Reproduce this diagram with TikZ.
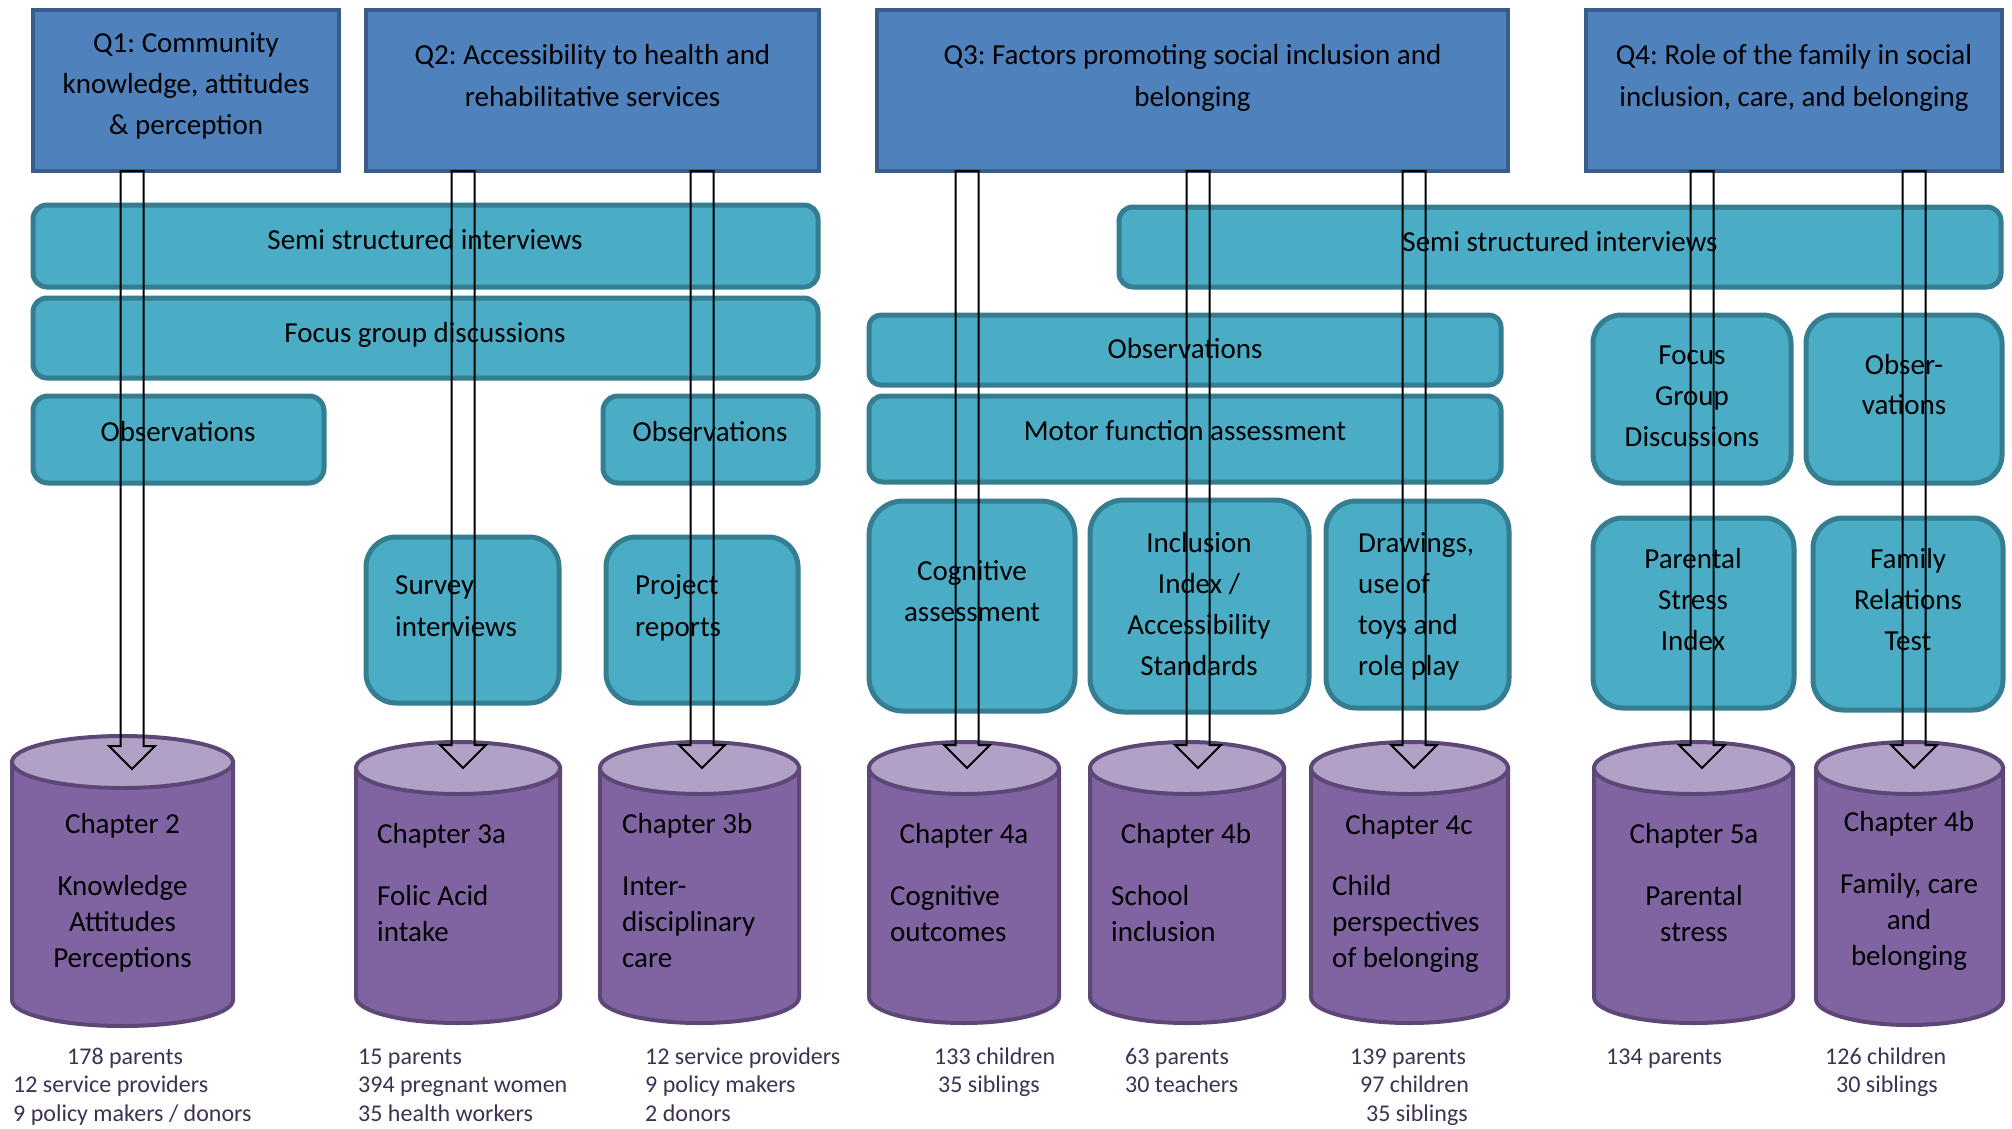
\documentclass[tikz,border=0pt]{standalone}
\usepackage{fontspec}
\setmainfont{Carlito}
\usetikzlibrary{calc}
\frenchspacing
\definecolor{qfill}{HTML}{4F81BD}
\definecolor{qline}{HTML}{385D8A}
\definecolor{tfill}{HTML}{4BACC6}
\definecolor{tline}{HTML}{357D91}
\definecolor{cbody}{HTML}{8064A2}
\definecolor{ctop}{HTML}{B2A1C7}
\definecolor{cline}{HTML}{5C4776}
\definecolor{ltxt}{HTML}{3F3151}
\tikzset{
  qbox/.style={draw=qline, fill=qfill, line width=4.5pt, rectangle, inner sep=0pt, outer sep=0pt},
  tbox/.style={draw=tline, fill=tfill, line width=5pt, rectangle, inner sep=0pt, outer sep=0pt},
  cylbody/.style={draw=cline, fill=cbody, line width=4pt},
  cyltop/.style={draw=cline, fill=ctop, line width=4pt},
  txt/.style={font=\fontsize{29}{35}\selectfont\frenchspacing, inner sep=0pt, text=black},
  ctr/.style={txt, anchor=base},
  lft/.style={txt, anchor=base west},
  sml/.style={font=\fontsize{24}{29}\selectfont, inner sep=0pt, text=ltxt, anchor=base west},
  blk/.style={draw=black, line width=2pt, line join=miter}
}
\newcommand\mybox[7]{\node[#2, rounded corners=#7, anchor=north west, minimum width={(#5)-(#3)}, minimum height={(#6)-(#4)}] (#1) at (#3,#4) {};}
\newcommand\mylines[6]{\foreach \t [count=\i] in {#6} {\node[#5] (#1-\i) at ({#2},{#3+#4*(\i-1)}) {\t};}}
\newcommand\mycyl[6]{%
  \pgfmathsetmacro\cylcx{(#2+#3)/2}%
  \pgfmathsetmacro\cylrx{(#3-#2)/2}%
  \path[cylbody] (#2,#4) -- (#2,#5) .. controls (#2,{#5+0.5523*#6}) and ({\cylcx-0.5523*\cylrx},{#5+#6}) .. (\cylcx,{#5+#6}) .. controls ({\cylcx+0.5523*\cylrx},{#5+#6}) and (#3,{#5+0.5523*#6}) .. (#3,#5) -- (#3,#4) -- cycle;
  \path[cyltop] (\cylcx,#4) ellipse [x radius=\cylrx, y radius=#6];
  \node[inner sep=0pt, minimum width=2*\cylrx, minimum height={#5-#4+2*#6}] (#1) at (\cylcx,{(#4+#5)/2}) {};
}
\newcommand\blockarrow[2]{\draw[blk] ($(#1)+(-11.5,0)$) -- ($(#1)+(11.5,0)$) -- ($(#2)+(11.5,-23)$) -- ($(#2)+(23,-23)$) -- (#2) -- ($(#2)+(-23,-23)$) -- ($(#2)+(-11.5,-23)$) -- cycle;}
\begin{document}
\begin{tikzpicture}[x=1pt,y=-1pt]
\useasboundingbox (0,0) rectangle (2012,1128);
\fill[white] (0,0) rectangle (2012,1128);
% question boxes
\mybox{q1}{qbox}{33}{10}{339}{171}{0pt}
\mybox{q2}{qbox}{366}{10}{819}{171}{0pt}
\mybox{q3}{qbox}{877}{10}{1508}{171}{0pt}
\mybox{q4}{qbox}{1586}{10}{2002}{171}{0pt}
\mylines{q1t}{186}{52}{41}{ctr}{Q1: Community,{knowledge, attitudes},\& perception}
\mylines{q2t}{592.5}{64}{42}{ctr}{Q2: Accessibility to health and,rehabilitative services}
\mylines{q3t}{1192.5}{64}{42}{ctr}{Q3: Factors promoting social inclusion and,belonging}
\mylines{q4t}{1794}{64}{42}{ctr}{Q4: Role of the family in social,{inclusion, care, and belonging}}
% method boxes
\mybox{ssiL}{tbox}{33}{205}{818}{287}{14pt}
\mybox{fgdL}{tbox}{33}{298}{818}{378}{14pt}
\mybox{obsL}{tbox}{33}{396}{324}{483}{15pt}
\mybox{obsM}{tbox}{603}{396}{818}{483}{15pt}
\mybox{ssiR}{tbox}{1119}{207}{2001}{287}{14pt}
\mybox{obsQ}{tbox}{869}{315}{1501}{385}{12pt}
\mybox{motor}{tbox}{869}{396}{1501}{482}{14pt}
\mybox{fgdR}{tbox}{1593}{315}{1791}{483}{28pt}
\mybox{obsR}{tbox}{1806}{315}{2002}{483}{28pt}
\mybox{surv}{tbox}{366}{537}{559}{703}{30pt}
\mybox{proj}{tbox}{606}{537}{798}{703}{30pt}
\mybox{cogn}{tbox}{869}{501}{1075}{711}{34pt}
\mybox{incl}{tbox}{1090}{500}{1309}{712}{34pt}
\mybox{drw}{tbox}{1326}{501}{1509}{708}{30pt}
\mybox{psi}{tbox}{1593}{518}{1794}{708}{30pt}
\mybox{frt}{tbox}{1813}{518}{2003}{710}{30pt}
\node[ctr] (ssiLt) at (425,249) {Semi structured interviews};
\node[ctr] (fgdLt) at (425,342) {Focus group discussions};
\node[ctr] (obsLt) at (178,441) {Observations};
\node[ctr] (obsMt) at (710,441) {Observations};
\node[ctr] (ssiRt) at (1560,251) {Semi structured interviews};
\node[ctr] (obsQt) at (1185,358) {Observations};
\node[ctr] (motort) at (1185,440) {Motor function assessment};
\mylines{fgdRt}{1692}{364}{41}{ctr}{Focus,Group,Discussions}
\mylines{obsRt}{1904}{374}{40}{ctr}{Obser-,vations}
\mylines{survt}{395}{594}{42}{lft}{Survey,interviews}
\mylines{projt}{635}{594}{42}{lft}{Project,reports}
\mylines{cognt}{972}{580}{41}{ctr}{Cognitive,assessment}
\mylines{inclt}{1199}{552}{41}{ctr}{Inclusion,Index /,Accessibility,Standards}
\mylines{drwt}{1358}{552}{41}{lft}{{Drawings,},use of,toys and,role play}
\mylines{psit}{1693}{568}{41}{ctr}{Parental,Stress,Index}
\mylines{frtt}{1908}{568}{41}{ctr}{Family,Relations,Test}
% chapter cylinders
\mycyl{ch2}{12}{233}{762}{1000}{26}
\mycyl{ch3a}{356}{560}{768}{997}{26}
\mycyl{ch3b}{600}{799}{768}{997}{26}
\mycyl{ch4a}{869}{1059}{768}{997}{26}
\mycyl{ch4b}{1090}{1284}{768}{997}{26}
\mycyl{ch4c}{1311}{1508}{768}{997}{26}
\mycyl{ch5a}{1594}{1793}{768}{997}{26}
\mycyl{ch4f}{1816}{2003}{768}{999}{26}
\node[ctr] (ch2h) at (122.5,833) {Chapter 2};
\mylines{ch2b}{122.5}{895}{36}{ctr}{Knowledge,Attitudes,Perceptions}
\node[lft] (ch3ah) at (377,843) {Chapter 3a};
\mylines{ch3ab}{377}{905}{36}{lft}{Folic Acid,intake}
\node[lft] (ch3bh) at (622,833) {Chapter 3b};
\mylines{ch3bb}{622}{895}{36}{lft}{Inter-,disciplinary,care}
\node[ctr] (ch4ah) at (964,843) {Chapter 4a};
\mylines{ch4ab}{890}{905}{36}{lft}{Cognitive,outcomes}
\node[ctr] (ch4bh) at (1186,843) {Chapter 4b};
\mylines{ch4bb}{1111}{905}{36}{lft}{School,inclusion}
\node[ctr] (ch4ch) at (1409,834) {Chapter 4c};
\mylines{ch4cb}{1332}{895}{36}{lft}{Child,perspectives,of belonging}
\node[ctr] (ch5ah) at (1694,843) {Chapter 5a};
\mylines{ch5ab}{1694}{905}{36}{ctr}{Parental,stress}
\node[ctr] (ch4fh) at (1909,831) {Chapter 4b};
\mylines{ch4fb}{1909}{893}{36}{ctr}{{Family, care},and,belonging}
% sample sizes
\node[sml] (n2a) at (67,1064) {178 parents};
\node[sml] (n2b) at (13,1092) {12 service providers};
\node[sml] (n2c) at (13,1121) {9 policy makers / donors};
\mylines{n3a}{358}{1064}{28.5}{sml}{15 parents,394 pregnant women,35 health workers}
\mylines{n3b}{645}{1064}{28.5}{sml}{12 service providers,9 policy makers,2 donors}
\node[sml] (n4aa) at (934,1064) {133 children};
\node[sml] (n4ab) at (938,1092) {35 siblings};
\node[sml] (n4ba) at (1125,1064) {63 parents};
\node[sml] (n4bb) at (1125,1092) {30 teachers};
\node[sml] (n4ca) at (1350,1064) {139 parents};
\node[sml] (n4cb) at (1360,1092) {97 children};
\node[sml] (n4cc) at (1366,1121) {35 siblings};
\node[sml] (n5a) at (1606,1064) {134 parents};
\node[sml] (n4fa) at (1825,1064) {126 children};
\node[sml] (n4fb) at (1836,1092) {30 siblings};
% arrows
\coordinate (t1) at (132,769);
\coordinate (t2) at (463,768);
\coordinate (t3) at (702,768);
\coordinate (t4) at (967,768);
\coordinate (t5) at (1198,768);
\coordinate (t6) at (1414,768);
\coordinate (t7) at (1702,768);
\coordinate (t8) at (1914,768);
\blockarrow{t1 |- q1.south}{t1}
\blockarrow{t2 |- q2.south}{t2}
\blockarrow{t3 |- q2.south}{t3}
\blockarrow{t4 |- q3.south}{t4}
\blockarrow{t5 |- q3.south}{t5}
\blockarrow{t6 |- q3.south}{t6}
\blockarrow{t7 |- q4.south}{t7}
\blockarrow{t8 |- q4.south}{t8}
\end{tikzpicture}
\end{document}
